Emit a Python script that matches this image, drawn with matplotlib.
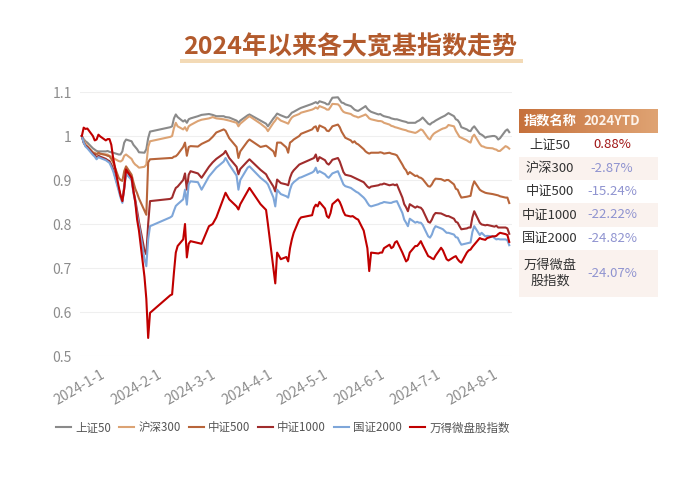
import matplotlib
matplotlib.use("Agg")
import matplotlib.pyplot as plt
import matplotlib.dates as mdates
from matplotlib.patches import Rectangle
from matplotlib.colors import LinearSegmentedColormap
import numpy as np
import pandas as pd

plt.rcParams['font.family'] = ['Noto Sans CJK SC', 'DejaVu Sans']

# trading days sampled from the chart
dates = [
    "2024-01-02", "2024-01-03", "2024-01-04", "2024-01-05", "2024-01-08", "2024-01-09",
    "2024-01-10", "2024-01-11", "2024-01-12", "2024-01-15", "2024-01-16", "2024-01-17",
    "2024-01-18", "2024-01-19", "2024-01-22", "2024-01-23", "2024-01-24", "2024-01-25",
    "2024-01-26", "2024-01-29", "2024-01-30", "2024-01-31", "2024-02-01", "2024-02-02",
    "2024-02-05", "2024-02-06", "2024-02-07", "2024-02-08", "2024-02-19", "2024-02-20",
    "2024-02-21", "2024-02-22", "2024-02-23", "2024-02-26", "2024-02-27", "2024-02-28",
    "2024-02-29", "2024-03-01", "2024-03-05", "2024-03-07", "2024-03-11", "2024-03-13",
    "2024-03-15", "2024-03-19", "2024-03-20", "2024-03-22", "2024-03-26", "2024-03-27",
    "2024-03-28", "2024-04-01", "2024-04-02", "2024-04-08", "2024-04-11", "2024-04-12",
    "2024-04-15", "2024-04-16", "2024-04-17", "2024-04-19", "2024-04-22", "2024-04-23",
    "2024-04-24", "2024-04-25", "2024-04-26", "2024-04-29", "2024-04-30", "2024-05-06",
    "2024-05-07", "2024-05-08", "2024-05-09", "2024-05-10", "2024-05-13", "2024-05-14",
    "2024-05-15", "2024-05-16", "2024-05-17", "2024-05-20", "2024-05-21", "2024-05-22",
    "2024-05-23", "2024-05-24", "2024-05-27", "2024-05-28", "2024-05-29", "2024-05-30",
    "2024-05-31", "2024-06-03", "2024-06-04", "2024-06-05", "2024-06-06", "2024-06-07",
    "2024-06-11", "2024-06-12", "2024-06-13", "2024-06-14", "2024-06-17", "2024-06-18",
    "2024-06-19", "2024-06-20", "2024-06-21", "2024-06-24", "2024-06-25", "2024-06-26",
    "2024-06-27", "2024-06-28", "2024-07-01", "2024-07-02", "2024-07-03", "2024-07-04",
    "2024-07-05", "2024-07-08", "2024-07-09", "2024-07-10", "2024-07-11", "2024-07-12",
    "2024-07-15", "2024-07-16", "2024-07-17", "2024-07-18", "2024-07-19", "2024-07-22",
    "2024-07-23", "2024-07-24", "2024-07-25", "2024-07-26", "2024-07-29", "2024-07-30",
    "2024-07-31", "2024-08-01", "2024-08-02", "2024-08-05", "2024-08-06", "2024-08-07",
    "2024-08-08", "2024-08-09", "2024-08-12", "2024-08-13", "2024-08-14", "2024-08-15",
    "2024-08-16", "2024-08-19", "2024-08-20", "2024-08-21",
]

sz50 = [
    1.0, 0.993, 0.988, 0.985, 0.972, 0.969, 0.966, 0.965, 0.965, 0.965, 0.966, 0.964,
    0.963, 0.962, 0.958, 0.958, 0.965, 0.985, 0.992, 0.988, 0.98, 0.975, 0.97, 0.963,
    0.962, 0.97, 0.995, 1.01, 1.02, 1.022, 1.04, 1.049, 1.043, 1.033, 1.036, 1.03,
    1.038, 1.04, 1.045, 1.048, 1.05, 1.048, 1.045, 1.045, 1.043, 1.042, 1.035, 1.03,
    1.035, 1.047, 1.049, 1.035, 1.028, 1.022, 1.04, 1.045, 1.051, 1.047, 1.042, 1.043,
    1.048, 1.053, 1.055, 1.062, 1.064, 1.073, 1.075, 1.077, 1.074, 1.079, 1.075, 1.072,
    1.072, 1.08, 1.087, 1.088, 1.082, 1.076, 1.075, 1.072, 1.068, 1.064, 1.06, 1.058,
    1.057, 1.065, 1.068, 1.062, 1.058, 1.055, 1.049, 1.05, 1.047, 1.045, 1.042, 1.04,
    1.039, 1.038, 1.038, 1.034, 1.033, 1.032, 1.03, 1.03, 1.03, 1.033, 1.035, 1.038,
    1.042, 1.028, 1.026, 1.03, 1.032, 1.035, 1.042, 1.044, 1.046, 1.049, 1.052, 1.045,
    1.038, 1.036, 1.03, 1.02, 1.015, 1.012, 1.011, 1.018, 1.022, 1.005, 1.003, 1.0,
    0.996, 0.998, 1.0, 1.0, 0.998, 0.992, 0.995, 1.012, 1.015, 1.0088,
]

hs300 = [
    1.0, 0.99, 0.983, 0.978, 0.963, 0.962, 0.96, 0.96, 0.959, 0.958, 0.958, 0.955,
    0.953, 0.95, 0.943, 0.942, 0.945, 0.955, 0.958, 0.948, 0.94, 0.935, 0.932, 0.928,
    0.93, 0.935, 0.975, 0.988, 0.998, 1.0, 1.018, 1.03, 1.022, 1.015, 1.02, 1.012,
    1.022, 1.025, 1.034, 1.037, 1.04, 1.043, 1.04, 1.038, 1.037, 1.035, 1.03, 1.022,
    1.028, 1.042, 1.045, 1.028, 1.018, 1.011, 1.03, 1.035, 1.042, 1.035, 1.03, 1.028,
    1.036, 1.042, 1.045, 1.05, 1.053, 1.06, 1.062, 1.065, 1.062, 1.068, 1.063, 1.06,
    1.06, 1.066, 1.073, 1.072, 1.068, 1.06, 1.055, 1.053, 1.05, 1.047, 1.045, 1.044,
    1.042, 1.047, 1.049, 1.045, 1.04, 1.038, 1.034, 1.034, 1.033, 1.03, 1.026, 1.023,
    1.022, 1.02, 1.019, 1.015, 1.014, 1.013, 1.011, 1.01, 1.007, 1.009, 1.012, 1.015,
    1.013, 0.995, 0.992, 1.0, 1.005, 1.008, 1.015, 1.017, 1.018, 1.02, 1.025, 1.022,
    1.012, 1.005, 0.998, 0.996, 0.99, 0.987, 0.985, 0.998, 1.003, 0.982, 0.977, 0.976,
    0.974, 0.973, 0.972, 0.97, 0.969, 0.966, 0.966, 0.977, 0.975, 0.9713,
]

zz500 = [
    1.0, 0.985, 0.978, 0.975, 0.962, 0.96, 0.958, 0.962, 0.96, 0.957, 0.955, 0.954,
    0.948, 0.94, 0.905, 0.9, 0.898, 0.92, 0.931, 0.912, 0.895, 0.88, 0.87, 0.858,
    0.83, 0.821, 0.94, 0.947, 0.95, 0.95, 0.953, 0.954, 0.958, 0.975, 0.985, 0.955,
    0.975, 0.977, 0.976, 0.982, 0.99, 0.998, 1.008, 1.015, 1.012, 0.995, 0.975, 0.95,
    0.965, 0.988, 0.992, 0.975, 0.978, 0.975, 0.965, 0.954, 0.985, 0.985, 0.974, 0.962,
    0.985, 0.988, 0.992, 1.0, 1.005, 1.015, 1.02, 1.022, 1.011, 1.024, 1.018, 1.012,
    1.011, 1.016, 1.022, 1.026, 1.02, 1.01, 1.003, 0.996, 0.99, 0.985, 0.988, 0.983,
    0.981, 0.97, 0.965, 0.962, 0.96, 0.962, 0.962, 0.963, 0.962, 0.96, 0.962, 0.96,
    0.959, 0.958, 0.956, 0.935, 0.927, 0.922, 0.913, 0.918, 0.909, 0.91, 0.906, 0.905,
    0.902, 0.886, 0.885, 0.89, 0.898, 0.903, 0.902, 0.9, 0.898, 0.9, 0.9, 0.89,
    0.88, 0.878, 0.868, 0.86, 0.862, 0.863, 0.864, 0.885, 0.897, 0.878, 0.875, 0.873,
    0.871, 0.87, 0.868, 0.867, 0.866, 0.865, 0.863, 0.86, 0.86, 0.8476,
]

zz1000 = [
    1.0, 0.985, 0.978, 0.975, 0.96, 0.957, 0.95, 0.955, 0.953, 0.948, 0.945, 0.943,
    0.935, 0.925, 0.88, 0.865, 0.852, 0.885, 0.922, 0.905, 0.875, 0.855, 0.83, 0.805,
    0.74, 0.731, 0.80, 0.852, 0.857, 0.86, 0.872, 0.882, 0.885, 0.9, 0.915, 0.878,
    0.912, 0.92, 0.915, 0.905, 0.93, 0.94, 0.948, 0.96, 0.966, 0.95, 0.93, 0.913,
    0.925, 0.943, 0.947, 0.923, 0.913, 0.905, 0.885, 0.874, 0.901, 0.893, 0.89, 0.888,
    0.905, 0.916, 0.922, 0.935, 0.937, 0.948, 0.95, 0.958, 0.943, 0.952, 0.945, 0.938,
    0.935, 0.94, 0.946, 0.95, 0.942, 0.93, 0.918, 0.912, 0.909, 0.907, 0.905, 0.903,
    0.901, 0.895, 0.89, 0.885, 0.882, 0.885, 0.888, 0.89, 0.89, 0.892, 0.888, 0.889,
    0.89, 0.888, 0.89, 0.86, 0.845, 0.838, 0.829, 0.845, 0.837, 0.84, 0.838, 0.837,
    0.832, 0.805, 0.803, 0.81, 0.82, 0.825, 0.824, 0.822, 0.82, 0.818, 0.818, 0.812,
    0.805, 0.803, 0.795, 0.788, 0.79, 0.792, 0.792, 0.815, 0.829, 0.803, 0.799, 0.798,
    0.797, 0.798, 0.795, 0.794, 0.796, 0.792, 0.792, 0.792, 0.79, 0.7778,
]

gz2000 = [
    1.0, 0.985, 0.976, 0.972, 0.957, 0.953, 0.947, 0.952, 0.95, 0.945, 0.942, 0.939,
    0.93, 0.92, 0.876, 0.86, 0.848, 0.88, 0.914, 0.9, 0.87, 0.85, 0.82, 0.798,
    0.72, 0.704, 0.765, 0.795, 0.815, 0.818, 0.83, 0.841, 0.845, 0.856, 0.878, 0.844,
    0.89, 0.897, 0.895, 0.878, 0.908, 0.918, 0.928, 0.942, 0.95, 0.935, 0.91, 0.878,
    0.9, 0.928, 0.931, 0.905, 0.895, 0.89, 0.86, 0.84, 0.878, 0.868, 0.863, 0.86,
    0.878, 0.89, 0.895, 0.905, 0.906, 0.917, 0.92, 0.928, 0.916, 0.92, 0.913, 0.908,
    0.905, 0.91, 0.915, 0.92, 0.91, 0.9, 0.89, 0.886, 0.882, 0.879, 0.876, 0.873,
    0.871, 0.86, 0.855, 0.848, 0.842, 0.84, 0.845, 0.847, 0.848, 0.85, 0.848, 0.848,
    0.85, 0.851, 0.852, 0.825, 0.81, 0.803, 0.795, 0.812, 0.803, 0.805, 0.803, 0.803,
    0.798, 0.772, 0.769, 0.776, 0.788, 0.795, 0.79, 0.788, 0.784, 0.78, 0.78, 0.776,
    0.77, 0.769, 0.76, 0.753, 0.756, 0.757, 0.758, 0.782, 0.795, 0.775, 0.78, 0.776,
    0.772, 0.773, 0.772, 0.768, 0.765, 0.766, 0.765, 0.765, 0.763, 0.7518,
]

wind_micro = [
    1.0, 1.019, 1.016, 1.017, 1.0, 0.99, 0.992, 1.003, 0.999, 0.99, 0.993, 0.993,
    0.98, 0.95, 0.885, 0.865, 0.852, 0.88, 0.924, 0.905, 0.875, 0.85, 0.81, 0.785,
    0.68, 0.63, 0.541, 0.598, 0.638, 0.64, 0.69, 0.735, 0.75, 0.765, 0.80, 0.724,
    0.755, 0.761, 0.757, 0.755, 0.795, 0.80, 0.815, 0.86, 0.871, 0.856, 0.84, 0.833,
    0.845, 0.875, 0.882, 0.845, 0.832, 0.80, 0.70, 0.665, 0.735, 0.72, 0.725, 0.715,
    0.745, 0.765, 0.78, 0.81, 0.815, 0.82, 0.837, 0.844, 0.84, 0.85, 0.835, 0.818,
    0.814, 0.825, 0.845, 0.856, 0.85, 0.84, 0.828, 0.82, 0.817, 0.818, 0.815, 0.812,
    0.81, 0.785, 0.765, 0.745, 0.693, 0.735, 0.733, 0.735, 0.735, 0.745, 0.753, 0.745,
    0.748, 0.758, 0.761, 0.735, 0.725, 0.715, 0.719, 0.735, 0.75, 0.75, 0.755, 0.761,
    0.752, 0.727, 0.725, 0.722, 0.72, 0.728, 0.746, 0.74, 0.73, 0.72, 0.717, 0.725,
    0.727, 0.72, 0.715, 0.712, 0.735, 0.74, 0.742, 0.748, 0.753, 0.768, 0.766, 0.765,
    0.764, 0.768, 0.772, 0.772, 0.773, 0.777, 0.78, 0.777, 0.775, 0.7593,
]

names = ["上证50", "沪深300", "中证500", "中证1000", "国证2000", "万得微盘股指数"]
colors = ["#8a8a8a", "#dca374", "#b8653a", "#a02c2c", "#7ea6d9", "#c00000"]
series = [sz50, hs300, zz500, zz1000, gz2000, wind_micro]

table_names = ["上证50", "沪深300", "中证500", "中证1000", "国证2000", "万得微盘\n股指数"]
ytd = ["0.88%", "-2.87%", "-15.24%", "-22.22%", "-24.82%", "-24.07%"]

x = pd.to_datetime(dates)

fig = plt.figure(figsize=(7, 4.8), dpi=100)
fig.patch.set_facecolor("white")

W, H = 700, 480
ax = fig.add_axes([80 / W, 1 - 356 / H, (512 - 80) / W, (356 - 92) / H])

for vals, c, n in zip(series, colors, names):
    ax.plot(x, vals, color=c, lw=1.5, label=n, solid_joinstyle="round")

ax.set_ylim(0.5, 1.1)
ax.set_yticks(np.round(np.arange(0.5, 1.11, 0.1), 1))
ax.yaxis.set_major_formatter(plt.FuncFormatter(lambda v, p: f"{v:g}"))
ax.set_xlim(pd.Timestamp("2024-01-01"), pd.Timestamp("2024-08-22 12:00"))
ax.xaxis.set_major_locator(mdates.MonthLocator())
ax.xaxis.set_major_formatter(plt.FuncFormatter(
    lambda v, p: (lambda d: f"{d.year}-{d.month}-{d.day}")(mdates.num2date(v))))
for lab in ax.get_xticklabels():
    lab.set_rotation(30)
    lab.set_ha("center")
ax.tick_params(axis="both", length=0, labelsize=10, colors="#8c8c8c", pad=6)
ax.tick_params(axis="x", pad=8)
ax.grid(axis="y", color="#efefef", lw=0.8)
ax.set_axisbelow(True)
for s in ax.spines.values():
    s.set_visible(False)

fig.legend(loc="center", bbox_to_anchor=(283 / W, 1 - 428 / H), ncol=6, frameon=False,
           fontsize=8.3, handlelength=1.3, handletextpad=0.35, columnspacing=0.7,
           labelcolor="#555555")

# overlay in pixel coordinates for title bar and table
ov = fig.add_axes([0, 0, 1, 1], zorder=-1)
ov.set_xlim(0, W)
ov.set_ylim(H, 0)
ov.axis("off")

ov.add_patch(Rectangle((180, 59), 343, 4, color="#f3dab6", lw=0))
fig.text(0.5, 1 - 47 / H, "2024年以来各大宽基指数走势", ha="center", va="center",
         fontsize=18, fontweight="bold", color="#b25a2c")

tx0, tx1 = 519, 658
ov2 = fig.add_axes([0, 0, 1, 1])
ov2.set_xlim(0, W)
ov2.set_ylim(H, 0)
ov2.axis("off")
grad = LinearSegmentedColormap.from_list("hdr", ["#c6713c", "#dfa373"])
ov2.imshow(np.linspace(0, 1, 100).reshape(1, -1), cmap=grad, aspect="auto",
           extent=[tx0, tx1, 133, 109], zorder=1)
ov2.text(550, 121, "指数名称", ha="center", va="center", color="white",
         fontsize=9.5, fontweight="bold", zorder=2)
ov2.text(612, 121, "2024YTD", ha="center", va="center", color="#fdf3ea",
         fontsize=9.5, fontweight="bold", zorder=2)

row_edges = [133, 157, 180, 203, 227, 250, 297]
for i, (nm, v) in enumerate(zip(table_names, ytd)):
    y0, y1 = row_edges[i], row_edges[i + 1]
    if i % 2 == 1:
        ov2.add_patch(Rectangle((tx0, y0), tx1 - tx0, y1 - y0, color="#faf2ee", lw=0, zorder=1))
    yc = (y0 + y1) / 2
    ov2.text(550, yc, nm, ha="center", va="center", color="#333333", fontsize=9.5,
             linespacing=1.25, zorder=2)
    vc = "#a01515" if not v.startswith("-") else "#8f93d0"
    ov2.text(612, yc, v, ha="center", va="center", color=vc, fontsize=9.5, zorder=2)
ov2.set_xlim(0, W)
ov2.set_ylim(H, 0)

fig.savefig("out.png", dpi=100)
